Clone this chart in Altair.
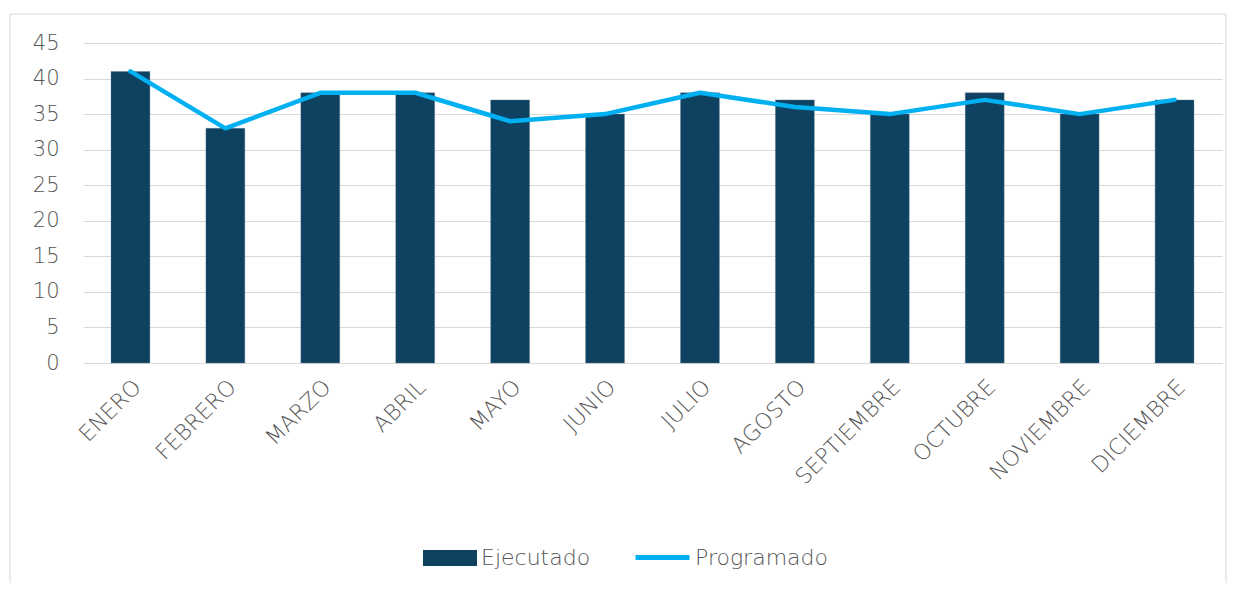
import altair as alt
import pandas as pd

meses = ["ENERO", "FEBRERO", "MARZO", "ABRIL", "MAYO", "JUNIO", "JULIO",
         "AGOSTO", "SEPTIEMBRE", "OCTUBRE", "NOVIEMBRE", "DICIEMBRE"]
ejecutado = [41, 33, 38, 38, 37, 35, 38, 37, 35, 38, 35, 37]
programado = [41, 33, 38, 38, 34, 35, 38, 36, 35, 37, 35, 37]
y_ticks = [0, 5, 10, 15, 20, 25, 30, 35, 40, 45]

df = pd.DataFrame({"mes": meses, "Ejecutado": ejecutado, "Programado": programado})

FONT = "DejaVu Sans"
TXT = "#555555"
W, H = 1139, 320

yaxis = alt.Axis(values=y_ticks, labelFontSize=21, labelColor=TXT, labelFont=FONT,
                 labelFontWeight=300, labelOverlap=False,
                 labelPadding=24, ticks=False, domain=False,
                 gridColor="#d9d9d9", gridWidth=1)

x = alt.X("mes:N", sort=meses, title=None,
          scale=alt.Scale(paddingInner=0.59, paddingOuter=0.295),
          axis=alt.Axis(labelAngle=-45, labelFontSize=22, labelColor=TXT, labelFont=FONT,
                        labelFontWeight=300, labelOverlap=False,
                        labelPadding=13, ticks=False, domain=False, grid=False))

yscale = alt.Scale(domain=[0, 45], nice=False)

bars = alt.Chart(df).transform_calculate(serie="'Ejecutado'").mark_bar(
    stroke="#5d7d93", strokeWidth=0.6, strokeOpacity=0.6
).encode(
    x=x,
    y=alt.Y("Ejecutado:Q", scale=yscale, title=None, axis=yaxis),
    fill=alt.Fill("serie:N", scale=alt.Scale(domain=["Ejecutado"], range=["#0f4261"]),
                  legend=alt.Legend(orient="none", legendX=340, legendY=488, title=None,
                                    symbolType="M-1,-0.3H1V0.3H-1Z", symbolSize=2916,
                                    symbolStrokeWidth=0, labelFontSize=22, labelColor=TXT,
                                    labelFont=FONT, labelFontWeight=300,
                                    labelOffset=4, padding=0)),
)

line = alt.Chart(df).transform_calculate(serie2="'Programado'").mark_line(
    strokeWidth=4.5, strokeCap="round", strokeJoin="round"
).encode(
    x=x,
    y=alt.Y("Programado:Q", scale=yscale, title=None, axis=yaxis),
    stroke=alt.Stroke("serie2:N", scale=alt.Scale(domain=["Programado"], range=["#00b0f0"]),
                      legend=alt.Legend(orient="none", legendX=550, legendY=485, title=None,
                                        symbolType="stroke", symbolSize=2916,
                                        symbolStrokeWidth=5, labelFontSize=22, labelColor=TXT,
                                        labelFont=FONT, labelFontWeight=300,
                                        labelOffset=3, padding=0)),
)

frame = alt.Chart(pd.DataFrame({"k": [0]})).mark_rect(
    fill=None, stroke="#d9d9d9", strokeWidth=1, clip=False
).encode(x=alt.value(-73), x2=alt.value(1143), y=alt.value(-29), y2=alt.value(600))

chart = alt.layer(frame, bars, line).resolve_scale(fill="independent", stroke="independent").properties(
    width=W, height=H,
    background="white",
    autosize=alt.AutoSizeParams(type="none"),
    padding={"left": 75, "top": 35, "right": 5, "bottom": 220},
).configure_view(stroke=None)

chart.save("out.html", embed_options={"renderer": "svg", "actions": False})
